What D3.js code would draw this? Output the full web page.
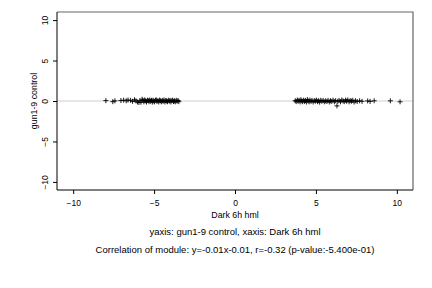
<!DOCTYPE html>
<html><head><meta charset="utf-8">
<script src="https://cdn.jsdelivr.net/npm/d3@7"></script>
<style>body{margin:0;background:#fff}svg{display:block}text{font-family:"Liberation Sans",Arial,sans-serif;fill:#000}</style>
</head><body><svg id="c" width="432" height="288"></svg>
<script>
const xTicks=[-10,-5,0,5,10];
const yTicks=[-10,-5,0,5,10];
const xLabel="Dark 6h hml";
const yLabel="gun1-9 control";
const caption1="yaxis: gun1-9 control, xaxis: Dark 6h hml";
const caption2="Correlation of module: y=-0.01x-0.01, r=-0.32 (p-value:-5.400e-01)";
const xVals=[-7.98,-7.55,-7.42,-7.05,-6.88,-6.72,-6.61,-6.45,-6.33,-6.21,-6.12,-6.03,-5.94,-5.88,-5.81,-5.74,-5.69,-5.63,-5.58,-5.52,-5.47,-5.41,-5.36,-5.31,-5.27,-5.22,-5.16,-5.11,-5.07,-5.02,-4.97,-4.91,-4.86,-4.82,-4.76,-4.71,-4.66,-4.6,-4.55,-4.49,-4.44,-4.39,-4.33,-4.28,-4.23,-4.17,-4.12,-4.06,-4.01,-3.96,-3.9,-3.85,-3.8,-3.74,-3.69,-3.63,-3.58,-3.52,-3.47,
3.72,3.78,3.85,3.9,3.96,4.02,4.07,4.13,4.18,4.24,4.3,4.35,4.41,4.47,4.52,4.58,4.63,4.7,4.76,4.83,4.9,4.97,5.04,5.1,5.17,5.23,5.3,5.37,5.45,5.52,5.6,5.68,5.75,5.83,5.9,5.98,6.06,6.14,6.22,6.3,6.35,6.43,6.52,6.6,6.68,6.75,6.83,6.9,6.97,7.05,7.12,7.2,7.28,7.36,7.45,7.55,7.7,7.85,8.2,8.35,8.6,9.6,10.2];
const yVals=[0.05,-0.08,0.02,0.06,0.1,0.03,0.12,0.08,-0.04,0.15,0.02,-0.12,-0.18,0.04,-0.15,0.22,0.08,-0.1,0.14,0.02,-0.13,0.1,0.05,-0.09,0.12,-0.02,0.08,-0.14,0.1,0.01,-0.11,0.09,0.13,-0.06,0.05,-0.12,0.11,0.03,-0.1,0.07,-0.04,0.12,-0.13,0.06,0.01,-0.09,0.1,-0.02,0.08,-0.12,0.05,0.11,-0.07,0.03,-0.1,0.09,-0.03,0.06,-0.08,
0.04,-0.08,0.12,-0.03,0.09,-0.11,0.15,0.02,-0.09,0.1,-0.05,0.07,-0.13,0.18,0.01,-0.1,0.11,-0.04,0.08,-0.12,0.05,-0.02,0.1,-0.08,0.04,-0.14,0.09,-0.03,0.06,-0.1,0.02,-0.06,0.08,-0.12,0.03,-0.05,0.1,-0.09,0.04,-0.6,-0.04,0.07,-0.1,0.12,0.01,-0.08,0.09,-0.03,0.14,-0.11,0.05,-0.02,0.08,-0.13,0.03,-0.06,0.02,-0.04,0.01,-0.05,0.03,0.02,-0.1];

const svg=d3.select("#c");
const L=57,R=413,T=12,B=190;
const x=d3.scaleLinear().domain([-11,11]).range([L,R]);
const y=d3.scaleLinear().domain([-11,11]).range([B,T]);

// zero line
svg.append("line").attr("x1",L).attr("x2",R).attr("y1",y(0)).attr("y2",y(0)).attr("stroke","#d0d0d0").attr("stroke-width",1);

// points
const pts=xVals.map((v,i)=>[v,yVals[i]]);
svg.append("g").selectAll("path").data(pts).enter().append("path")
 .attr("d",d=>{const cx=x(d[0]),cy=y(d[1]),s=2.5;return `M${cx-s},${cy}H${cx+s}M${cx},${cy-s}V${cy+s}`;})
 .attr("stroke","#000").attr("stroke-width",0.9).attr("fill","none");

// box
svg.append("path").attr("d",`M${L},${T}H${R}V${B}`).attr("fill","none").attr("stroke","#666").attr("stroke-width",1.2);
svg.append("path").attr("d",`M${L},${T}V${B}H${R}`).attr("fill","none").attr("stroke","#000").attr("stroke-width",1);

// x axis
const xa=svg.append("g").attr("transform",`translate(0,${B})`)
 .call(d3.axisBottom(x).tickValues(xTicks).tickSize(4).tickPadding(6).tickFormat(d3.format("d")));
xa.select(".domain").remove();
xa.selectAll("text").attr("font-size",8.5).style("font-family","Liberation Sans, Arial, sans-serif");
// y axis
const ya=svg.append("g").attr("transform",`translate(${L},0)`)
 .call(d3.axisLeft(y).tickValues(yTicks).tickSize(4).tickFormat(d3.format("d")));
ya.select(".domain").remove();
ya.selectAll("text").attr("font-size",8.5).style("font-family","Liberation Sans, Arial, sans-serif")
 .attr("x",null).attr("dy",null).attr("text-anchor","middle")
 .attr("transform",d=>`translate(-9,0) rotate(-90)`);

svg.append("text").attr("x",x(0)).attr("y",218).attr("text-anchor","middle").attr("font-size",8.8).text(xLabel);
svg.append("text").attr("transform",`translate(37,${y(0)}) rotate(-90)`).attr("text-anchor","middle").attr("font-size",8.8).text(yLabel);
svg.append("text").attr("x",x(0)).attr("y",235).attr("text-anchor","middle").attr("font-size",9.5).text(caption1);
svg.append("text").attr("x",x(0)).attr("y",253).attr("text-anchor","middle").attr("font-size",9.5).text(caption2);
</script></body></html>
